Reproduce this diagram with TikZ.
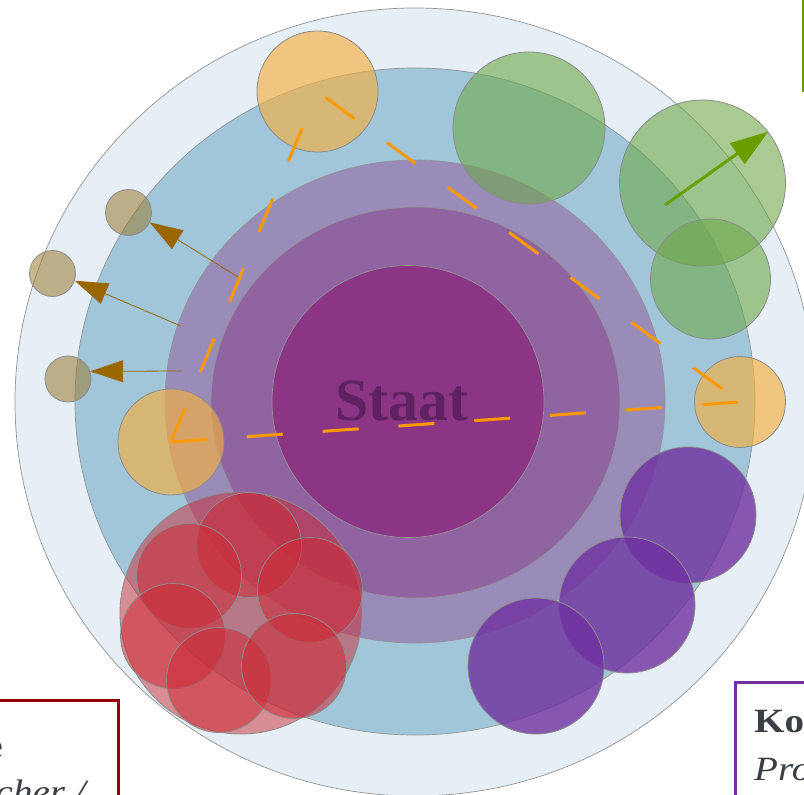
\documentclass[tikz,border=0pt]{standalone}
\usepackage{fontspec}
\setmainfont{Liberation Serif}
\newfontfamily\boxfont[FakeStretch=1.15]{Liberation Serif}
\usepackage{tikz}
\usetikzlibrary{arrows.meta}

\definecolor{ringouter}{HTML}{E6EFF5}
\definecolor{ringblue}{HTML}{A1C6DA}
\definecolor{ringlav}{HTML}{9A8CB8}
\definecolor{ringmauve}{HTML}{9064A0}
\definecolor{ringcore}{HTML}{8C3585}
\definecolor{staattext}{HTML}{5E2260}
\definecolor{textgrey}{HTML}{3B3E44}
\definecolor{orangeblob}{HTML}{F5B041}
\definecolor{greenblob}{HTML}{6FA84A}
\definecolor{tanblob}{HTML}{9A7A30}
\definecolor{purpleblob}{HTML}{7030A0}
\definecolor{redblob}{HTML}{CC2A35}
\definecolor{dashorange}{HTML}{FF9900}
\definecolor{pushgreen}{HTML}{6A9E00}
\definecolor{pullbrown}{HTML}{996600}
\definecolor{boxred}{HTML}{990000}

\begin{document}
\begin{tikzpicture}[x=1pt,y=-1pt,
    ring/.style={draw=gray!85, line width=0.7pt},
    blob/.style={circle, draw=gray!90, line width=0.8pt, inner sep=0pt},
    dashline/.style={dashorange, line width=3pt, dash pattern=on 36pt off 40pt},
    pusharrow/.style={pushgreen, line width=3pt, -{Triangle[length=38pt,width=25pt]}},
    pullarrow/.style={pullbrown, line width=0.8pt, -{Triangle[length=33pt,width=22pt]}},
    textbox/.style={line width=3pt, minimum width=300pt, minimum height=200pt, inner sep=0pt},
    boxtext/.style={text=textgrey, inner sep=0pt}]
    \useasboundingbox (0,0) rectangle (804,795);
    \clip (0,0) rectangle (804,795);

    % rings round the state
    \draw[ring, fill=ringouter] (415,402) ellipse [x radius=400, y radius=394];
    \draw[ring, fill=ringblue] (415,401.5) ellipse [x radius=340, y radius=333.5];
    \draw[ring, fill=ringlav] (415,401.5) ellipse [x radius=250, y radius=241.5];
    \draw[ring, fill=ringmauve] (415.5,402.5) ellipse [x radius=204.5, y radius=195.5];
    \draw[ring, fill=ringcore] (408,401.5) ellipse [x radius=136, y radius=136];
    \node[font=\bfseries\fontsize{60}{60}\selectfont, text=staattext, inner sep=0pt] (staat) at (402,401) {Staat};

    % actors
    \node[blob, fill=orangeblob, fill opacity=0.65, minimum size=121pt] (orTop) at (317.5,91.5) {};
    \node[blob, fill=orangeblob, fill opacity=0.65, minimum size=91pt] (orRight) at (740,402) {};
    \node[blob, fill=orangeblob, fill opacity=0.65, minimum size=106pt] (orLeft) at (171,442) {};
    \node[blob, fill=greenblob, fill opacity=0.6, minimum size=152pt] (gTop) at (529,128) {};
    \node[blob, fill=greenblob, fill opacity=0.6, minimum size=166pt] (gBig) at (702.5,183) {};
    \node[blob, fill=greenblob, fill opacity=0.6, minimum size=120pt] (gSmall) at (710.5,279) {};
    \foreach \x/\y/\n in {128.5/212.5/tan1, 52.5/273.5/tan2, 68/379/tan3}
        \node[blob, fill=tanblob, fill opacity=0.55, minimum size=46pt] (\n) at (\x,\y) {};
    \foreach \x/\y/\n in {688/515/pu1, 627/605/pu2, 536/666/pu3}
        \node[blob, fill=purpleblob, fill opacity=0.8, minimum size=136pt] (\n) at (\x,\y) {};
    \node[blob, fill=redblob, fill opacity=0.5, minimum size=242pt] (redBig) at (241,613) {};
    \foreach \x/\y/\n in {249/545/rd1, 189/576/rd2, 310/590/rd3, 173/636/rd4, 219/680/rd5, 294/666/rd6}
        \node[blob, fill=redblob, fill opacity=0.55, minimum size=105pt] (\n) at (\x,\y) {};

    % dashed triangle
    \draw[dashline] (orLeft.center) -- (orTop.center);
    \draw[dashline, dash phase=66pt] (orTop.center) -- (orRight.center);
    \draw[dashline] (orLeft.center) -- (orRight.center);

    % arrows
    \coordinate (push) at (665,205);
    \draw[pusharrow] (push) -- (gBig.38);
    \coordinate (pull1) at (238,277);
    \coordinate (pull2) at (181,326);
    \coordinate (pull3) at (181,371);
    \draw[pullarrow] (pull1) -- (tan1.-25);
    \draw[pullarrow] (pull2) -- (tan2.-18);
    \draw[pullarrow] (pull3) -- (tan3.19);

    % text boxes at the edges
    \node[textbox, draw=pushgreen, anchor=south west] (gbox) at (801.5,92) {};
    \node[textbox, draw=boxred, anchor=north east] (vbox) at (120,699) {};
    \node[boxtext, anchor=base east, font=\boxfont\bfseries\fontsize{34}{40}\selectfont] (vtop) at (3,757) {Haushalte};
    \node[boxtext, anchor=base east, font=\boxfont\itshape\fontsize{34}{40}\selectfont] (vbot) at (86,803) {Verbraucher /};
    \node[textbox, draw=purpleblob, anchor=north west] (kbox) at (733.5,681) {};
    \node[boxtext, anchor=base west, font=\boxfont\bfseries\fontsize{34}{40}\selectfont] (ktop) at (754,732) {Konsumenten /};
    \node[boxtext, anchor=base west, font=\boxfont\itshape\fontsize{34}{40}\selectfont] (kbot) at (754,780) {Produzenten};
\end{tikzpicture}
\end{document}
